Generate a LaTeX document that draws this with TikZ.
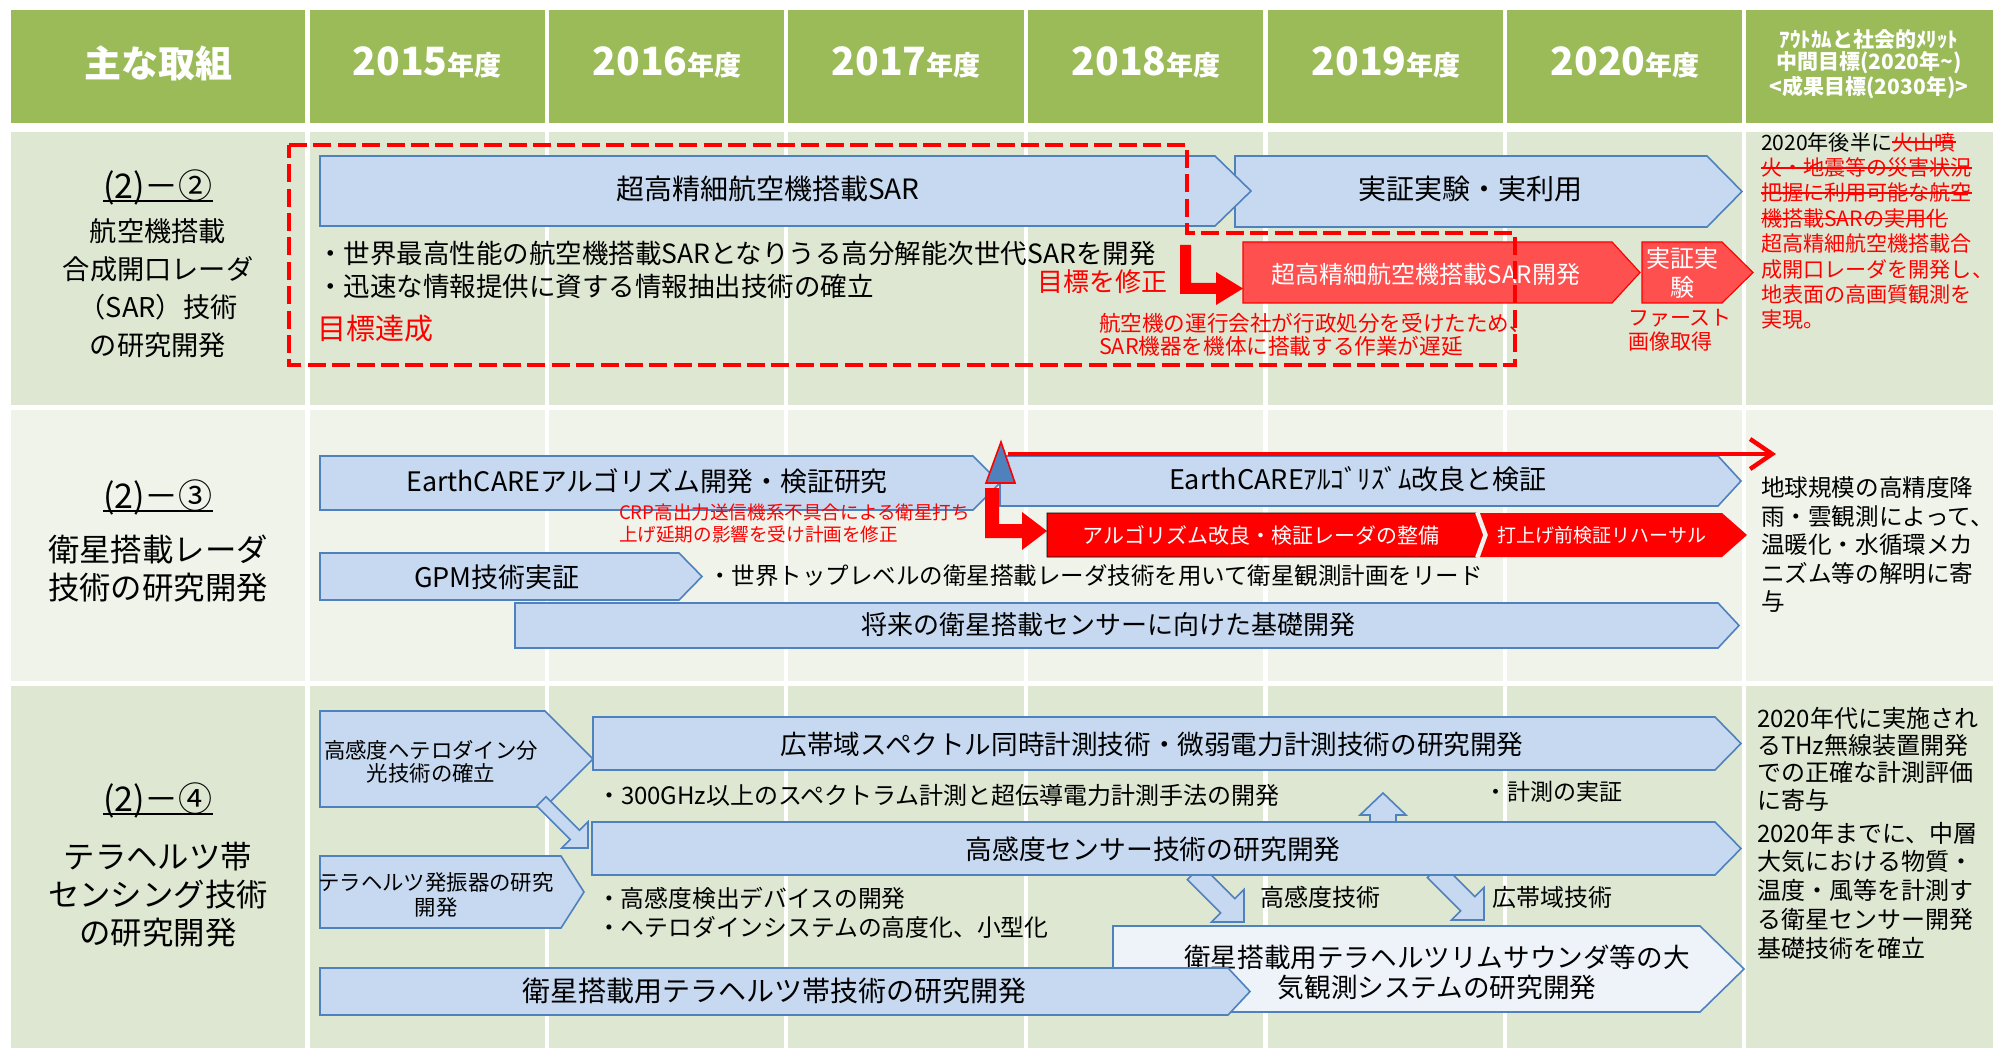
\documentclass[tikz,border=0pt]{standalone}
\usepackage{fontspec}
\setmainfont{Noto Sans CJK JP}
\usetikzlibrary{arrows.meta}
\definecolor{hdr}{HTML}{9BBB59}
\definecolor{bandA}{HTML}{DEE7D1}
\definecolor{bandB}{HTML}{EFF3EA}
\definecolor{bfill}{HTML}{C6D9F1}
\definecolor{bline}{HTML}{4F81BD}
\definecolor{lfill}{HTML}{EEF3FA}
\definecolor{rlight}{HTML}{FF5050}
\newcommand\fsz[2]{\fontsize{#1}{#2}\selectfont}
\newcommand\strk[1]{\setbox0\hbox{#1}\rlap{\rule[0.33em]{\wd0}{0.08em}}\box0}
\newcommand\penta[6]{\draw[#1] (#2,#3) -- (#4,#3) -- (#5,{(#3+#6)/2}) -- (#4,#6) -- (#2,#6) -- cycle;}
\newcommand\blk[7]{\begin{scope}[shift={(#1,#2)},rotate=#3]
\draw[barrow] (0,0) -- (-#7,#6/2) -- (-#7,#5/2) -- (-#4,#5/2) -- (-#4,-#5/2) -- (-#7,-#5/2) -- (-#7,-#6/2) -- cycle;
\end{scope}}
\begin{document}
\begin{tikzpicture}[x=0.5pt,y=-0.5pt,
  tx/.style={inner sep=0pt,outer sep=0pt},
  barrow/.style={fill=bfill,draw=bline,line width=0.8pt,line join=miter},
  rbox/.style={fill=rlight,draw=red,line width=0.6pt},
  rsolid/.style={fill=red}]
\fill[white] (0,0) rectangle (1993,1048);
\useasboundingbox (0,0) rectangle (1993,1048);
% table cells
\foreach \a/\b in {11/305,310/545,549/784,788/1024,1028/1263,1268/1503,1507/1742,1746/1993}{
  \fill[hdr] (\a,10) rectangle (\b,123);
  \fill[bandA] (\a,132) rectangle (\b,405);
  \fill[bandB] (\a,410) rectangle (\b,681);
  \fill[bandA] (\a,686) rectangle (\b,1048);
}
% header
\node[tx,text=white,font=\bfseries\fsz{18.5}{20}] (h0) at (158,63) {主な取組};
\foreach \c/\y in {427/2015,667/2016,906/2017,1146/2018,1386/2019,1625/2020}
  \node[tx,text=white,font=\bfseries] (h\y) at (\c,62) {\fsz{19.5}{20}\y\fsz{13.5}{14}年度};
\node[tx,text=white,font=\bfseries\fsz{10.5}{11.25},align=center] (h7) at (1869,64)
  {ｱｳﾄｶﾑと社会的ﾒﾘｯﾄ\\中間目標(2020年\textasciitilde)\\<成果目標(2030年)>};
% row labels
\node[tx,font=\fsz{17}{18}] (n1) at (158,187) {(2)－②};
\draw[line width=0.9pt] ([yshift=-1.5pt]n1.base west) -- ([yshift=-1.5pt]n1.base east);
\node[tx,font=\fsz{13.6}{19},align=center] (l1) at (158,288) {航空機搭載\\合成開口レーダ\\（SAR）技術\\の研究開発};
\node[tx,font=\fsz{17}{18}] (n2) at (158,497) {(2)－③};
\draw[line width=0.9pt] ([yshift=-1.5pt]n2.base west) -- ([yshift=-1.5pt]n2.base east);
\node[tx,font=\fsz{15.7}{19},align=center] (l2) at (158,569) {衛星搭載レーダ\\技術の研究開発};
\node[tx,font=\fsz{17}{18}] (n3) at (158,800) {(2)－④};
\draw[line width=0.9pt] ([yshift=-1.5pt]n3.base west) -- ([yshift=-1.5pt]n3.base east);
\node[tx,font=\fsz{15.7}{19},align=center] (l3) at (158,895) {テラヘルツ帯\\センシング技術\\の研究開発};
% ---------------- row 1
\penta{barrow}{1235}{156}{1707}{1742}{227}
\penta{barrow}{320}{156}{1215}{1251}{226}
\node[tx,font=\fsz{14}{16}] (a1) at (768,189) {超高精細航空機搭載SAR};
\node[tx,font=\fsz{14}{16}] (a2) at (1470,189) {実証実験・実利用};
\node[tx,anchor=west,align=left,font=\fsz{13.25}{16.75}] (b1) at (317,270)
  {・世界最高性能の航空機搭載SARとなりうる高分解能次世代SARを開発\\・迅速な情報提供に資する情報抽出技術の確立};
\node[tx,anchor=west,text=red,font=\fsz{14.5}{16}] (g1) at (317,329) {目標達成};
\node[tx,text=red,font=\fsz{13}{15}] (g2) at (1102,282) {目標を修正};
\penta{rbox}{1243}{242}{1612}{1640}{303}
\penta{rbox}{1642}{242}{1722}{1753}{303}
\node[tx,text=white,font=\fsz{12}{14}] (r1) at (1426,274) {超高精細航空機搭載SAR開発};
\node[tx,text=white,font=\fsz{12}{14.5},align=center] (r2) at (1682,273) {実証実\\験};
\node[tx,anchor=west,text=red,align=left,font=\fsz{10.5}{12}] (r3) at (1628,330) {ファースト\\画像取得};
\node[tx,anchor=west,text=red,align=left,font=\fsz{10.8}{11.5}] (r4) at (1099,334.5)
  {航空機の運行会社が行政処分を受けたため、\\SAR機器を機体に搭載する作業が遅延};
\fill[red] (1180,245) -- (1191,245) -- (1191,283) -- (1216,283) -- (1216,272) -- (1243,288.5)
  -- (1216,305) -- (1216,294) -- (1180,294) -- cycle;
\draw[red,line width=2.4pt,dash pattern=on 9pt off 3.2pt] (289,145) -- (1187,145) -- (1187,233)
  -- (1515,233) -- (1515,365) -- (289,365) -- cycle;
\node[tx,anchor=west,align=left,font=\fsz{10.55}{12.7}] (o1) at (1761,231)
  {2020年後半に\textcolor{red}{\strk{火山噴}}\\
   \textcolor{red}{\strk{火・地震等の災害状況}}\\
   \textcolor{red}{\strk{把握に利用可能な航空}}\\
   \textcolor{red}{\strk{機搭載SARの実用化}}\\
   \textcolor{red}{超高精細航空機搭載合}\\
   \textcolor{red}{成開口レーダを開発し、}\\
   \textcolor{red}{地表面の高画質観測を}\\
   \textcolor{red}{実現。}};
% ---------------- row 2
\penta{barrow}{320}{456}{973}{1000}{510}
\penta{barrow}{1000}{456}{1718}{1741}{506}
\node[tx,font=\fsz{13.4}{15}] (c1) at (647,481) {EarthCAREアルゴリズム開発・検証研究};
\node[tx,font=\fsz{13.5}{15}] (c2) at (1358,479) {EarthCAREｱﾙｺﾞﾘｽﾞﾑ改良と検証};
\node[tx,anchor=west,text=red,align=left,font=\fsz{9.3}{11}] (c3) at (619,523)
  {CRP高出力送信機系不具合による衛星打ち\\上げ延期の影響を受け計画を修正};
\draw[fill=bline,draw=red,line width=0.8pt] (1001,442) -- (1015,483) -- (986,483) -- cycle;
\draw[red,line width=2.2pt,-{Straight Barb[length=11pt,width=15pt]}] (1008,454) -- (1776,454);
\fill[red] (985,488) -- (999,488) -- (999,524) -- (1022,524) -- (1022,512) -- (1047,531)
  -- (1022,550) -- (1022,538) -- (985,538) -- cycle;
\penta{rsolid}{1047}{513}{1476}{1484}{557}
\fill[red] (1480,513) -- (1722,513) -- (1747,535) -- (1722,557) -- (1480,557) -- (1488,535) -- cycle;
\draw[white,line width=0.8pt] (1476,513) -- (1484,535) -- (1476,557);
\node[tx,text=white,font=\fsz{10.5}{12}] (d1) at (1261,535) {アルゴリズム改良・検証レーダの整備};
\node[tx,text=white,font=\fsz{9.5}{11}] (d2) at (1602,535) {打上げ前検証リハーサル};
\penta{barrow}{320}{553}{679}{702}{600}
\node[tx,font=\fsz{13.5}{15}] (e1) at (497,577) {GPM技術実証};
\node[tx,anchor=west,font=\fsz{11.75}{13}] (e2) at (708,576)
  {・世界トップレベルの衛星搭載レーダ技術を用いて衛星観測計画をリード};
\penta{barrow}{515}{603}{1718}{1739}{648}
\node[tx,font=\fsz{13}{15}] (e3) at (1108,625) {将来の衛星搭載センサーに向けた基礎開発};
\node[tx,anchor=west,align=left,font=\fsz{11.8}{14.25}] (o2) at (1761,545)
  {地球規模の高精度降\\雨・雲観測によって、\\温暖化・水循環メカ\\ニズム等の解明に寄\\与};
% ---------------- row 3
\penta{barrow}{320}{711}{545}{593}{807}
\node[tx,font=\fsz{10.7}{11.75},align=center] (f1) at (431,762) {高感度ヘテロダイン分\\光技術の確立};
\penta{barrow}{593}{717}{1715}{1741}{770}
\node[tx,font=\fsz{13.3}{15}] (f2) at (1152,744) {広帯域スペクトル同時計測技術・微弱電力計測技術の研究開発};
\blk{1383}{793}{90}{40}{26}{46}{22}
\blk{1244}{922}{-45}{70}{20}{46}{23}
\blk{1484}{920}{-45}{70}{20}{46}{23}
\penta{barrow}{592}{822}{1715}{1741}{875}
\node[tx,font=\fsz{13.4}{15}] (f3) at (1153,849) {高感度センサー技術の研究開発};
\blk{588}{848}{-45}{66}{13}{37}{18.5}
\penta{barrow}{320}{856}{561}{584}{928}
\node[tx,font=\fsz{10.7}{12.5},align=center] (f4) at (436,895) {テラヘルツ発振器の研究\\開発};
\node[tx,anchor=west,font=\fsz{12}{14}] (f5) at (597,795) {・300GHz以上のスペクトラム計測と超伝導電力計測手法の開発};
\node[tx,anchor=west,font=\fsz{11.5}{13}] (f6) at (1484,792) {・計測の実証};
\node[tx,anchor=west,align=left,font=\fsz{11.9}{14.5}] (f7) at (597,912.5)
  {・高感度検出デバイスの開発\\・ヘテロダインシステムの高度化、小型化};
\node[tx,anchor=west,font=\fsz{12}{14}] (f8) at (1260,897) {高感度技術};
\node[tx,anchor=west,font=\fsz{12}{14}] (f9) at (1492,897) {広帯域技術};
\penta{barrow,fill=lfill}{1113}{926}{1700}{1744}{1012}
\node[tx,font=\fsz{13.3}{15},align=center] (f10) at (1437,972) {衛星搭載用テラヘルツリムサウンダ等の大\\気観測システムの研究開発};
\penta{barrow}{320}{968}{1228}{1250}{1015}
\node[tx,font=\fsz{14}{16}] (f11) at (774,991) {衛星搭載用テラヘルツ帯技術の研究開発};
\node[tx,anchor=west,align=left,font=\fsz{12}{13.65}] (o3a) at (1757,759)
  {2020年代に実施され\\るTHz無線装置開発\\での正確な計測評価\\に寄与};
\node[tx,anchor=west,align=left,font=\fsz{12}{14.4}] (o3b) at (1757,890.5)
  {2020年までに、中層\\大気における物質・\\温度・風等を計測す\\る衛星センサー開発\\基礎技術を確立};
\end{tikzpicture}
\end{document}
